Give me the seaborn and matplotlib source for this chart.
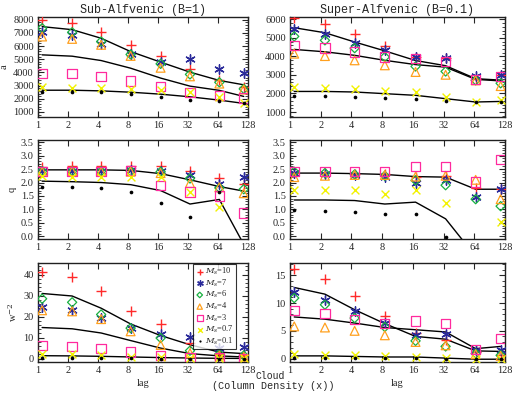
import numpy as np
import pandas as pd
import matplotlib
matplotlib.use("Agg")
import matplotlib.pyplot as plt
from matplotlib.ticker import MultipleLocator, FixedLocator, NullLocator
import seaborn as sns

sns.set_style("ticks")
plt.rcParams["font.family"] = ["Liberation Serif", "DejaVu Serif"]
plt.rcParams["mathtext.fontset"] = "dejavuserif"

# x positions of the structure-function lags (as drawn, slightly offset from the ticks)
lag = [1.1, 2.2, 4.3, 8.5, 17, 33.5, 66, 116]
lag_ticks = [1, 2, 4, 8, 16, 32, 64, 128]
lag_labels = ["1", "2", "4", "8", "16", "32", "64", "128"]

series = ["10", "7", "6", "4", "3", "0.7", "0.1"]
colors = ["#ff2a2a", "#2a2a9a", "#18b040", "#ffa01e", "#ff2a9e", "#f2f200", "black"]

# --- a, sub-Alfvenic
a_sub = {
    "10": [8000, 7750, 7040, 6040, 5230, 4250, 3400, 2900],
    "7": [7100, 6840, 6160, 5400, 4780, 4980, 4270, 3970],
    "6": [7350, 7040, 6340, 5360, 4650, 3850, 3250, 2750],
    "4": [6720, 6540, 6090, 5250, 4350, 3700, 3150, 2700],
    "3": [3940, 3900, 3700, 3350, 2950, 2500, 2250, 2050],
    "0.7": [2900, 2850, 2800, 2750, 2650, 2500, 2100, 1650],
    "0.1": [2550, 2550, 2500, 2350, 2150, 1900, 1850, 1650],
}
a_sub_lines = [
    [7470, 7240, 6590, 5580, 4780, 4020, 3390, 3060],
    [5330, 5230, 4900, 4320, 3570, 2960, 2640, 2180],
    [2650, 2650, 2600, 2500, 2350, 2150, 1900, 1650],
]
# --- a, super-Alfvenic
a_sup = {
    "10": [6070, 5770, 5190, 4540, 3970, 3930, 2760, 3010],
    "7": [5500, 5230, 4740, 4330, 3970, 3930, 2940, 3010],
    "6": [5080, 4870, 4450, 3970, 3460, 3190, 2710, 2550],
    "4": [4150, 4020, 3790, 3520, 3160, 3010, 2710, 2400],
    "3": [4600, 4450, 4240, 3970, 3880, 3730, 2760, 2920],
    "0.7": [2350, 2290, 2220, 2120, 2080, 1810, 1540, 1630],
    "0.1": [1850, 1850, 1810, 1760, 1720, 1590, 1540, 1540],
}
a_sup_lines = [
    [5550, 5280, 4780, 4300, 3780, 3500, 2800, 2720],
    [4380, 4250, 4060, 3790, 3560, 3420, 2760, 2680],
    [2110, 2110, 2080, 1990, 1900, 1720, 1540, 1570],
]
# --- q, sub-Alfvenic
q_sub = {
    "10": [2.58, 2.6, 2.6, 2.6, 2.6, 2.42, 2.18, 1.95],
    "7": [2.42, 2.42, 2.42, 2.45, 2.42, 2.28, 1.95, 2.2],
    "6": [2.42, 2.42, 2.42, 2.42, 2.4, 2.15, 1.8, 1.75],
    "4": [2.4, 2.42, 2.4, 2.4, 2.35, 1.98, 1.82, 1.6],
    "3": [2.42, 2.42, 2.42, 2.45, 1.88, 1.65, 1.5, 0.87],
    "0.7": [2.25, 2.22, 2.2, 2.2, 2.2, 1.65, 1.1, -0.5],
    "0.1": [1.85, 1.85, 1.8, 1.65, 1.25, 0.73, 1.65, -0.5],
}
q_sub_lines = [
    [2.47, 2.47, 2.47, 2.45, 2.33, 2.1, 1.85, 1.68],
    [2.05, 2.03, 2.0, 1.92, 1.7, 1.2, 1.37, -0.3],
]
# --- q, super-Alfvenic
q_sup = {
    "10": [2.35, 2.35, 2.3, 2.3, 2.22, 2.25, 1.8, 1.75],
    "7": [2.35, 2.33, 2.28, 2.22, 1.98, 2.1, 1.45, 1.75],
    "6": [2.4, 2.35, 2.3, 2.25, 2.08, 1.9, 1.38, 1.12],
    "4": [2.2, 2.25, 2.28, 2.28, 2.22, 2.25, 2.1, 1.38],
    "3": [2.4, 2.4, 2.4, 2.42, 2.6, 2.6, 2.02, 2.85],
    "0.7": [1.72, 1.73, 1.73, 1.57, 1.72, 1.25, -0.5, 0.52],
    "0.1": [0.97, 0.95, 0.92, 0.83, 0.84, -0.03, -0.5, -0.5],
}
q_sup_lines = [
    [2.35, 2.35, 2.33, 2.3, 2.22, 2.2, 1.75, 1.75],
    [1.35, 1.35, 1.33, 1.2, 1.27, 0.65, -0.75, -1.0],
]
# --- w^-2, sub-Alfvenic
w_sub = {
    "10": [41.3, 38.9, 32.3, 22.5, 16.5, 7.5, 2.4, 1.6],
    "7": [24.5, 23.0, 19.5, 14.8, 11.5, 10.3, 5.0, 5.5],
    "6": [28.5, 26.8, 21.0, 14.5, 9.8, 3.8, 2.2, 1.5],
    "4": [23.0, 22.5, 18.8, 13.0, 6.5, 2.6, 1.5, 0.9],
    "3": [6.2, 5.8, 4.8, 3.2, 1.5, 0.5, 0.4, 0.2],
    "0.7": [2.2, 2.0, 1.6, 1.0, 0.8, 0.4, 0.2, 0.1],
    "0.1": [0.3, 0.3, 0.3, 0.1, 0.0, 0.0, 0.0, 0.0],
}
w_sub_lines = [
    [31.0, 29.8, 24.0, 16.5, 11.0, 6.6, 3.1, 2.4],
    [14.8, 14.2, 12.2, 8.6, 5.0, 2.4, 1.3, 0.8],
    [1.4, 1.3, 1.1, 0.8, 0.5, 0.3, 0.15, 0.1],
]
# --- w^-2, super-Alfvenic
w_sup = {
    "10": [16.1, 14.4, 11.3, 7.6, 4.6, 3.4, 1.2, 0.6],
    "7": [11.9, 10.6, 8.5, 6.5, 4.3, 4.5, 1.5, 1.6],
    "6": [10.9, 9.7, 7.3, 5.7, 3.2, 2.2, 0.9, 0.6],
    "4": [5.8, 5.6, 5.0, 4.2, 3.0, 2.4, 0.8, 0.5],
    "3": [8.7, 8.1, 7.0, 6.3, 6.8, 6.3, 1.7, 3.6],
    "0.7": [0.8, 0.7, 0.6, 0.4, 0.3, 0.1, 0.0, 0.0],
    "0.1": [0.1, 0.1, 0.1, 0.05, 0.05, 0.0, -0.1, -0.1],
}
w_sup_lines = [
    [12.8, 11.6, 8.8, 6.3, 4.0, 3.5, 1.4, 1.3],
    [7.5, 7.1, 6.4, 5.6, 5.2, 4.8, 1.8, 2.2],
    [0.5, 0.5, 0.4, 0.3, 0.3, 0.1, -0.1, -0.1],
]

markers = {
    "10": dict(marker="+", s=45, lw=1.0, open=False),
    "7": dict(marker=(6, 2, 0), s=45, lw=1.0, open=False),
    "6": dict(marker="D", s=22, lw=0.9, open=True),
    "4": dict(marker="^", s=40, lw=0.9, open=True),
    "3": dict(marker="s", s=45, lw=0.9, open=True),
    "0.7": dict(marker="x", s=32, lw=1.0, open=False),
    "0.1": dict(marker="o", s=7, lw=0, open=False),
}


def draw_panel(ax, data, lines, ylim, major, minor):
    for ln in lines:
        sns.lineplot(x=lag, y=ln, ax=ax, color="black", lw=1.0,
                     estimator=None, sort=False)
    for name, col in zip(series, colors):
        mk = markers[name]
        kw = dict(marker=mk["marker"], s=mk["s"], linewidth=mk["lw"], color=col)
        if mk["open"]:
            kw["facecolor"] = "none"
            kw["edgecolor"] = col
        sns.scatterplot(x=lag, y=data[name], ax=ax, label=f"$M_s$={name}",
                        zorder=3, **kw)
    ax.set_xscale("log", base=2)
    ax.set_xlim(1, 128)
    ax.set_ylim(*ylim)
    ax.xaxis.set_major_locator(FixedLocator(lag_ticks))
    ax.xaxis.set_minor_locator(NullLocator())
    ax.set_xticklabels(lag_labels)
    ax.yaxis.set_major_locator(MultipleLocator(major))
    ax.yaxis.set_minor_locator(MultipleLocator(minor))
    ax.tick_params(which="both", direction="in", top=True, right=True, labelsize=7.5, pad=3)
    ax.tick_params(which="major", length=4, width=0.8)
    ax.tick_params(which="minor", length=2, width=0.6)
    for sp in ax.spines.values():
        sp.set_linewidth(1.0)
        sp.set_color("#202020")
    ax.set_xlabel("")
    ax.set_ylabel("")
    if ax.get_legend() is not None:
        ax.get_legend().remove()


fig = plt.figure(figsize=(5.12, 3.93), dpi=100)
W, H = 512, 393


def add_ax(x0, y0, x1, y1):
    return fig.add_axes([x0 / W, 1 - y1 / H, (x1 - x0) / W, (y1 - y0) / H])


ax_a1 = add_ax(38, 17, 248, 117)
ax_a2 = add_ax(290, 17, 505, 117)
ax_q1 = add_ax(38, 140, 248, 239)
ax_q2 = add_ax(290, 140, 505, 239)
ax_w1 = add_ax(38, 263, 248, 362)
ax_w2 = add_ax(290, 263, 505, 362)

draw_panel(ax_a1, a_sub, a_sub_lines, (620, 8200), 1000, 200)
draw_panel(ax_a2, a_sup, a_sup_lines, (730, 6130), 1000, 200)
draw_panel(ax_q1, q_sub, q_sub_lines, (-0.1, 3.58), 0.5, 0.1)
draw_panel(ax_q2, q_sup, q_sup_lines, (-0.1, 3.58), 0.5, 0.1)
draw_panel(ax_w1, w_sub, w_sub_lines, (-1.6, 45.5), 10, 2)
draw_panel(ax_w2, w_sup, w_sup_lines, (-0.6, 17.2), 5, 1)

mono = ["Liberation Mono", "DejaVu Sans Mono"]
ax_a1.set_title("Sub-Alfvenic (B=1)", family=mono, fontsize=8.5, pad=3)
ax_a2.set_title("Super-Alfvenic (B=0.1)", family=mono, fontsize=8.5, pad=3)
ax_a1.set_ylabel("a", fontsize=7.5, labelpad=3)
ax_q1.set_ylabel("q", fontsize=7.5, labelpad=3)
ax_w1.set_ylabel("w$^{-2}$", fontsize=7.5, labelpad=3)
ax_w1.set_xlabel("lag", fontsize=7.5, labelpad=3)
ax_w2.set_xlabel("lag", fontsize=7.5, labelpad=3)

# legend in the lower-left panel
handles, labels = ax_w1.get_legend_handles_labels()
pts = [h for h, l in zip(handles, labels) if l.startswith("$M_s$")]
lbs = [l for l in labels if l.startswith("$M_s$")]
leg = ax_w1.legend(pts, lbs, loc="upper right", bbox_to_anchor=(0.945, 1.0),
                   fontsize=6, frameon=True, fancybox=False, handletextpad=0.1,
                   borderpad=0.25, labelspacing=0.05, handlelength=1.0,
                   borderaxespad=0.1, markerscale=0.6)
leg.get_frame().set_edgecolor("black")
leg.get_frame().set_linewidth(0.8)

fig.text(270 / W, 1 - 376 / H, "Cloud", family=mono, fontsize=7, ha="center", va="center")
fig.text(273 / W, 1 - 386 / H, "(Column Density (x))", family=mono, fontsize=7.3,
         ha="center", va="center")

fig.savefig("out.png", dpi=100)
